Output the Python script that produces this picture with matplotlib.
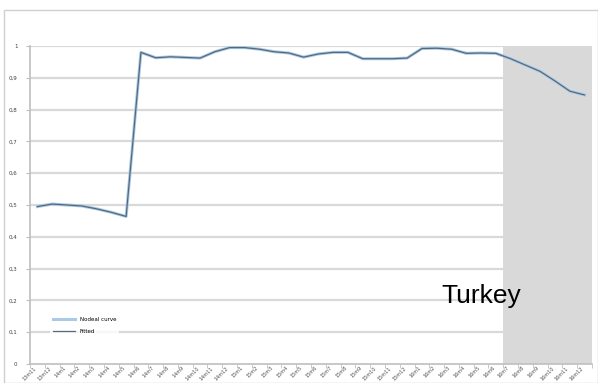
import matplotlib
matplotlib.use("Agg")
from matplotlib import pyplot as plt
from matplotlib.patches import Rectangle
from matplotlib.transforms import IdentityTransform
import numpy as np

# monthly periods, Nov 2013 .. Dec 2016
periods = ["13m11", "13m12"] + \
    ["%dm%d" % (y, m) for y in (14, 15, 16) for m in range(1, 13)]

observed = [0.495, 0.503, 0.500, 0.497, 0.488, 0.477, 0.464, 0.980,
            0.963, 0.966, 0.964, 0.962, 0.982, 0.995, 0.995, 0.990,
            0.982, 0.978, 0.965, 0.975, 0.980, 0.980, 0.960, 0.960,
            0.960, 0.962, 0.992, 0.993, 0.990, 0.977, 0.978, 0.977,
            0.960, 0.940, 0.920, 0.890, 0.858, 0.846]
fitted = observed

forecast_start = 32  # first shaded period
country = "Turkey"

yticks = [0, 0.1, 0.2, 0.3, 0.4, 0.5, 0.6, 0.7, 0.8, 0.9, 1]
ylabels = ["0", "0,1", "0,2", "0,3", "0,4", "0,5", "0,6", "0,7", "0,8",
           "0,9", "1"]

W, H = 598, 383
fig = plt.figure(figsize=(W / 100, H / 100), dpi=100)
fig.patches.append(Rectangle((4 / W, 0), 1 - 4 / W, 1 - 10 / H,
                             transform=fig.transFigure, fill=False,
                             edgecolor="#d0d0d0", lw=1))

ax = fig.add_axes([30 / W, 1 - 364 / H, 562 / W, (364 - 46) / H])
x = np.arange(len(periods))
n = len(periods)

# gridlines only up to the shaded block
for v in yticks[1:]:
    ax.plot([-0.5, forecast_start - 0.5], [v, v], color="#d9d9d9",
            lw=1.6, zorder=1)
ax.axvspan(forecast_start - 0.5, n - 0.5, ymin=0, ymax=1,
           color="#d9d9d9", lw=0, zorder=1)

ax.plot(x, observed, color="#a9cbe8", lw=2.2, zorder=3,
        label="Nodeal curve")
ax.plot(x, fitted, color="#56697c", lw=0.9, zorder=4, label="Fitted")

ax.set_xlim(-0.5, n - 0.5)
ax.set_ylim(0, 1)
ax.set_yticks(yticks)
ax.set_yticklabels(ylabels, fontsize=4, color="#404040")
ax.set_xticks(x)
ax.set_xticklabels(periods, rotation=45, ha="right", fontsize=3.5,
                   color="#505050")
ax.set_xticks(np.arange(n + 1) - 0.5, minor=True)
ax.tick_params(axis="x", which="major", length=0, pad=1)
ax.tick_params(axis="x", which="minor", length=3, color="#bfbfbf")
ax.tick_params(axis="y", length=3, color="#bfbfbf", pad=6)

for s in ("top", "right"):
    ax.spines[s].set_visible(False)
for s in ("left", "bottom"):
    ax.spines[s].set_color("#bfbfbf")
    ax.spines[s].set_linewidth(1.2)

leg = ax.legend(loc="lower left", bbox_to_anchor=(0.03, 0.075),
                fontsize=4, frameon=True, fancybox=False,
                handlelength=4, borderpad=0.6, labelspacing=1.2)
leg.get_frame().set_edgecolor("none")
leg.get_frame().set_facecolor("white")
leg.set_zorder(5)

# country name, placed in pixel coordinates
ax.text(481, H - 296, country, transform=IdentityTransform(), fontsize=19,
        family="Liberation Sans", ha="center", va="center")

fig.savefig("out.png", dpi=100)
